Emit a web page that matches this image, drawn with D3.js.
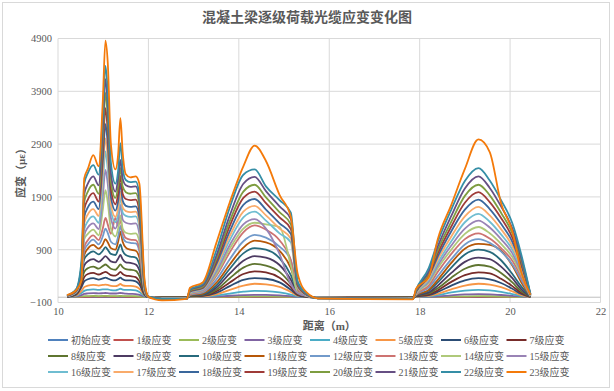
<!DOCTYPE html>
<html>
<head>
<meta charset="utf-8">
<script src="https://cdn.jsdelivr.net/npm/d3@7"></script>
<style>
  body { margin: 0; background: #fff; }
  text { font-family: "Liberation Serif", "Noto Sans CJK SC", serif; }
</style>
</head>
<body>
<div id="chart"></div>
<script>
// distance along the beam (m), shared by every series
const distance = [10.2, 10.4, 10.52, 10.58, 10.66, 10.78, 10.9, 10.99, 11.05, 11.1,
  11.17, 11.27, 11.33, 11.38, 11.43, 11.5, 11.6, 11.72, 11.8, 11.92, 12.0,
  12.3, 12.85, 12.92,
  13.2, 13.5, 13.8, 14.1, 14.35, 14.6, 14.9, 15.15, 15.3, 15.5, 15.75,
  17.85, 17.92,
  18.2, 18.4, 18.7, 19.0, 19.3, 19.55, 19.8, 20.05, 20.25, 20.45];

const seriesNames = ["初始应变", "1级应变", "2级应变", "3级应变", "4级应变", "5级应变", "6级应变", "7级应变",
  "8级应变", "9级应变", "10级应变", "11级应变", "12级应变", "13级应变", "14级应变", "15级应变",
  "16级应变", "17级应变", "18级应变", "19级应变", "20级应变", "21级应变", "22级应变", "23级应变"];

const seriesColors = ["#4F81BD", "#C0504D", "#9BBB59", "#8064A2", "#4BACC6", "#F79646",
  "#2C4D75", "#772C2A", "#5F7530", "#4D3B62", "#276A7C", "#B65708",
  "#729ACA", "#CD7371", "#AFC97A", "#9983B5", "#6FBDD1", "#F9AB6B",
  "#3A679C", "#9F3B38", "#7E9D40", "#664F83", "#358EA6", "#F47A0A"];

const yTicks = [-100, 900, 1900, 2900, 3900, 4900];
const xTicks = [10, 12, 14, 16, 18, 20, 22];

// strain (με) per load grade
const g0 = [0,0,0,0,0,0,0,0,0,0, 0,0,0,0,0,0,0,0,0,0,0, 0,0,0, 0,0,0,0,0,0,0,0,0,0,0, 0,0, 0,0,0,0,0,0,0,0,0,0];
const g1 = [0,2,6,8,9,10,9,10,10,10, 9,9,10,11,10,9,9,8,6,1,0, 0,0,0, 1,2,4,6,7,6,5,3,1,0,0, 0,0, 1,2,5,7,8,7,6,3,1,0];
const g2 = [1,5,15,20,22,24,22,23,25,23, 21,20,22,25,22,20,20,18,14,3,0, -1,-1,1, 2,5,10,14,16,15,12,7,2,0,0, -1,1, 2,5,12,17,20,18,14,8,3,0];
const g3 = [2,12,40,62,72,78,72,76,80,76, 70,70,75,80,75,68,64,60,45,10,0, -2,-2,3, 5,12,28,40,45,44,35,20,6,1,-1, -2,3, 6,15,35,52,60,55,42,25,10,1];
const g4 = [3,25,80,120,140,150,140,148,150,148, 135,130,145,160,145,140,140,130,100,20,1, -3,-3,5, 10,30,70,105,120,115,90,50,15,2,-2, -3,5, 15,40,90,125,140,130,100,60,25,2];
const g5 = [5,35,120,190,220,235,220,232,240,232, 215,210,225,250,225,215,215,200,160,30,2, -5,-5,10, 15,55,140,220,255,245,195,100,30,4,-3, -5,10, 25,65,150,220,255,240,190,110,40,4];
const g6 = [6,50,190,300,340,360,335,355,370,355, 330,320,345,370,340,320,320,300,240,40,2, -5,-5,15, 25,80,210,330,360,350,280,140,40,5,-5, -5,15, 40,100,220,320,360,340,270,160,60,5];
const g7 = [8,60,240,380,440,460,430,460,480,460, 420,410,440,480,440,410,400,380,300,50,2, -5,-5,20, 30,110,280,440,490,470,370,190,50,8,-5, -5,20, 50,130,290,420,470,450,350,210,80,6];
const g8 = [10,70,300,480,550,580,540,590,620,590, 540,520,570,620,570,530,520,500,400,60,3, -5,-5,25, 40,140,360,560,630,600,480,250,70,10,-5, -5,25, 70,170,370,540,610,580,460,280,110,8];
const g9 = [12,80,360,600,680,720,670,730,780,740, 680,660,730,800,720,660,650,620,510,70,3, -10,-10,30, 50,180,450,690,780,750,610,330,90,10,-5, -10,30, 90,220,460,670,750,720,580,360,150,10];
const g10 = [14,90,420,720,810,870,810,880,950,900, 820,800,900,1000,880,800,770,750,620,80,4, -10,-10,35, 60,220,540,830,930,900,740,420,110,15,-5, -10,35, 120,280,560,810,900,860,700,440,200,15];
const g11 = [15,100,450,800,920,990,920,1000,1100,1040, 930,900,1050,1240,1050,940,900,880,750,90,4, -10,-10,40, 70,270,620,940,1070,1040,880,550,150,20,-5, -10,40, 140,330,650,920,1010,990,880,600,280,20];
const g12 = [17,100,480,880,1000,1090,1000,1150,1300,1220, 1050,1000,1150,1350,1150,1050,1030,1020,870,100,5, -15,-15,50, 90,330,720,1060,1180,1130,960,700,180,25,-10, -15,50, 180,400,720,1000,1100,1030,870,620,330,20];
const g13 = [18,100,500,950,1080,1170,1080,1300,1500,1380, 1200,1500,1350,1450,1250,1120,1090,1080,920,110,5, -15,-15,60, 110,400,850,1230,1360,1280,1080,700,150,25,-10, -15,60, 220,480,820,1100,1210,1110,930,690,380,25];
const g14 = [20,100,600,1100,1200,1280,1170,1650,2030,1800, 1300,1150,1300,1550,1300,1220,1200,1210,1050,120,6, -20,-20,70, 120,440,920,1300,1410,1380,1330,600,90,25,-10, -20,70, 270,550,900,1200,1330,1210,1010,760,430,25];
const g15 = [20,90,370,1170,1320,1400,1290,1900,2410,2150, 1500,1300,1450,1750,1470,1410,1390,1400,1200,140,6, -20,-20,80, 130,480,990,1380,1480,1300,820,250,80,25,-10, -20,80, 300,600,980,1300,1450,1320,1100,830,470,30];
const g16 = [22,95,400,1280,1440,1530,1410,2150,2760,2420, 1640,1420,1580,1900,1600,1540,1520,1530,1320,150,7, -20,-20,90, 150,530,1080,1510,1620,1450,1210,1040,190,35,-10, -20,80, 330,650,1060,1420,1580,1430,1190,900,520,30];
const g17 = [24,100,440,1400,1570,1670,1540,2350,3010,2650, 1760,1520,1690,2000,1700,1630,1610,1620,1400,160,8, -25,-25,100, 160,570,1160,1620,1730,1550,1300,1110,200,40,-15, -25,90, 360,710,1150,1530,1710,1550,1290,970,560,35];
const g18 = [26,110,480,1520,1700,1810,1670,2560,3280,2900, 1900,1640,1820,2150,1830,1730,1710,1720,1500,170,8, -25,-25,110, 170,620,1250,1750,1860,1660,1400,1200,220,45,-15, -25,100, 390,770,1250,1660,1850,1670,1390,1050,600,40];
const g19 = [28,120,520,1660,1850,1970,1810,2780,3580,3150, 2050,1760,1960,2300,1960,1860,1840,1850,1620,180,8, -30,-30,120, 185,670,1350,1880,2000,1780,1510,1290,240,50,-20, -30,110, 420,830,1340,1790,1990,1800,1500,1130,650,45];
const g20 = [30,130,560,1800,2000,2130,1960,3000,3870,3400, 2200,1880,2100,2450,2100,1990,1960,1970,1730,190,10, -30,-30,130, 200,720,1440,2000,2130,1890,1610,1380,260,55,-20, -30,120, 450,890,1430,1920,2130,1930,1600,1210,690,50];
const g21 = [30,140,600,1950,2150,2290,2120,3200,4130,3650, 2350,2000,2250,2600,2250,2120,2090,2100,1850,210,10, -30,-30,140, 220,780,1550,2150,2280,2010,1720,1480,280,60,-20, -30,130, 490,960,1540,2060,2290,2070,1720,1300,740,55];
const g22 = [35,150,700,2150,2350,2500,2320,3450,4380,3900, 2550,2150,2400,2920,2450,2220,2180,2190,1950,230,10, -30,-30,150, 250,880,1700,2320,2420,2100,1840,1600,300,70,-20, -30,140, 550,1050,1660,2200,2445,2210,1840,1400,800,60];
const g23 = [40,130,320,2250,2430,2690,2480,3700,4860,4450, 2900,2420,2700,3390,2750,2330,2270,2290,2150,280,10, -60,-30,180, 280,1020,1800,2480,2870,2580,1940,1520,450,90,-20, -40,160, 380,1100,1750,2430,2990,2750,1780,1250,470,50];

const strainSeries = [g0, g1, g2, g3, g4, g5, g6, g7, g8, g9, g10, g11,
  g12, g13, g14, g15, g16, g17, g18, g19, g20, g21, g22, g23];

const width = 614, height = 391;
const plot = { left: 58, right: 600.5, top: 38.5, bottom: 302.5 };

const svg = d3.select("#chart").append("svg")
  .attr("width", width)
  .attr("height", height);

// chart frame
svg.append("rect")
  .attr("x", 2.5).attr("y", 2.5)
  .attr("width", 607).attr("height", 385)
  .attr("fill", "#fff")
  .attr("stroke", "#D9D9D9");

const x = d3.scaleLinear().domain([10, 22]).range([plot.left, plot.right]);
const y = d3.scaleLinear().domain([-100, 4900]).range([plot.bottom, plot.top]);

// gridlines
svg.append("g").selectAll("line.h")
  .data(yTicks).enter().append("line")
  .attr("x1", plot.left).attr("x2", plot.right)
  .attr("y1", d => y(d)).attr("y2", d => y(d))
  .attr("stroke", "#D9D9D9");

svg.append("g").selectAll("line.v")
  .data(xTicks).enter().append("line")
  .attr("x1", d => x(d)).attr("x2", d => x(d))
  .attr("y1", plot.top).attr("y2", plot.bottom)
  .attr("stroke", "#D9D9D9");

// horizontal axis crosses at zero
svg.append("line")
  .attr("x1", plot.left).attr("x2", plot.right)
  .attr("y1", y(0)).attr("y2", y(0))
  .attr("stroke", "#BFBFBF");

// axes (labels only)
const yAxis = svg.append("g")
  .attr("transform", `translate(${plot.left},0)`)
  .call(d3.axisLeft(y).tickValues(yTicks).tickFormat(d3.format("d")).tickSize(0).tickPadding(6));
const xAxis = svg.append("g")
  .attr("transform", `translate(0,${plot.bottom})`)
  .call(d3.axisBottom(x).tickValues(xTicks).tickFormat(d3.format("d")).tickSize(0).tickPadding(5));

[yAxis, xAxis].forEach(a => {
  a.attr("font-family", '"Liberation Serif", serif').attr("font-size", 10.5);
  a.select(".domain").remove();
  a.selectAll("text").attr("fill", "#595959");
});

// series lines
const line = d3.line()
  .x((d, i) => x(distance[i]))
  .y(d => y(d))
  .curve(d3.curveMonotoneX);

svg.append("g").selectAll("path")
  .data(strainSeries).enter().append("path")
  .attr("d", d => line(d))
  .attr("fill", "none")
  .attr("stroke", (d, i) => seriesColors[i])
  .attr("stroke-width", 1.8)
  .attr("stroke-linejoin", "round");

// titles
svg.append("text")
  .attr("x", 307).attr("y", 22)
  .attr("text-anchor", "middle")
  .attr("fill", "#595959")
  .style("font-size", "14px")
  .style("font-weight", "bold")
  .text("混凝土梁逐级荷载光缆应变变化图");

svg.append("text")
  .attr("x", (plot.left + plot.right) / 2).attr("y", 330)
  .attr("text-anchor", "middle")
  .attr("fill", "#595959")
  .style("font-size", "11px")
  .style("font-weight", "bold")
  .text("距离（m）");

svg.append("text")
  .attr("transform", `translate(25,${(plot.top + plot.bottom) / 2}) rotate(-90)`)
  .attr("text-anchor", "middle")
  .attr("fill", "#595959")
  .style("font-size", "11px")
  .style("font-weight", "bold")
  .text("应变（με）");

// legend, 8 per row
const legend = svg.append("g").selectAll("g")
  .data(seriesNames).enter().append("g")
  .attr("transform", (d, i) => `translate(${48 + (i % 8) * 65.5},${340 + Math.floor(i / 8) * 16})`);

legend.append("line")
  .attr("x1", 0).attr("x2", 20)
  .attr("stroke", (d, i) => seriesColors[i])
  .attr("stroke-width", 2);

legend.append("text")
  .attr("x", 23).attr("dy", "0.35em")
  .attr("fill", "#595959")
  .style("font-size", "10px")
  .text(d => d);
</script>
</body>
</html>
